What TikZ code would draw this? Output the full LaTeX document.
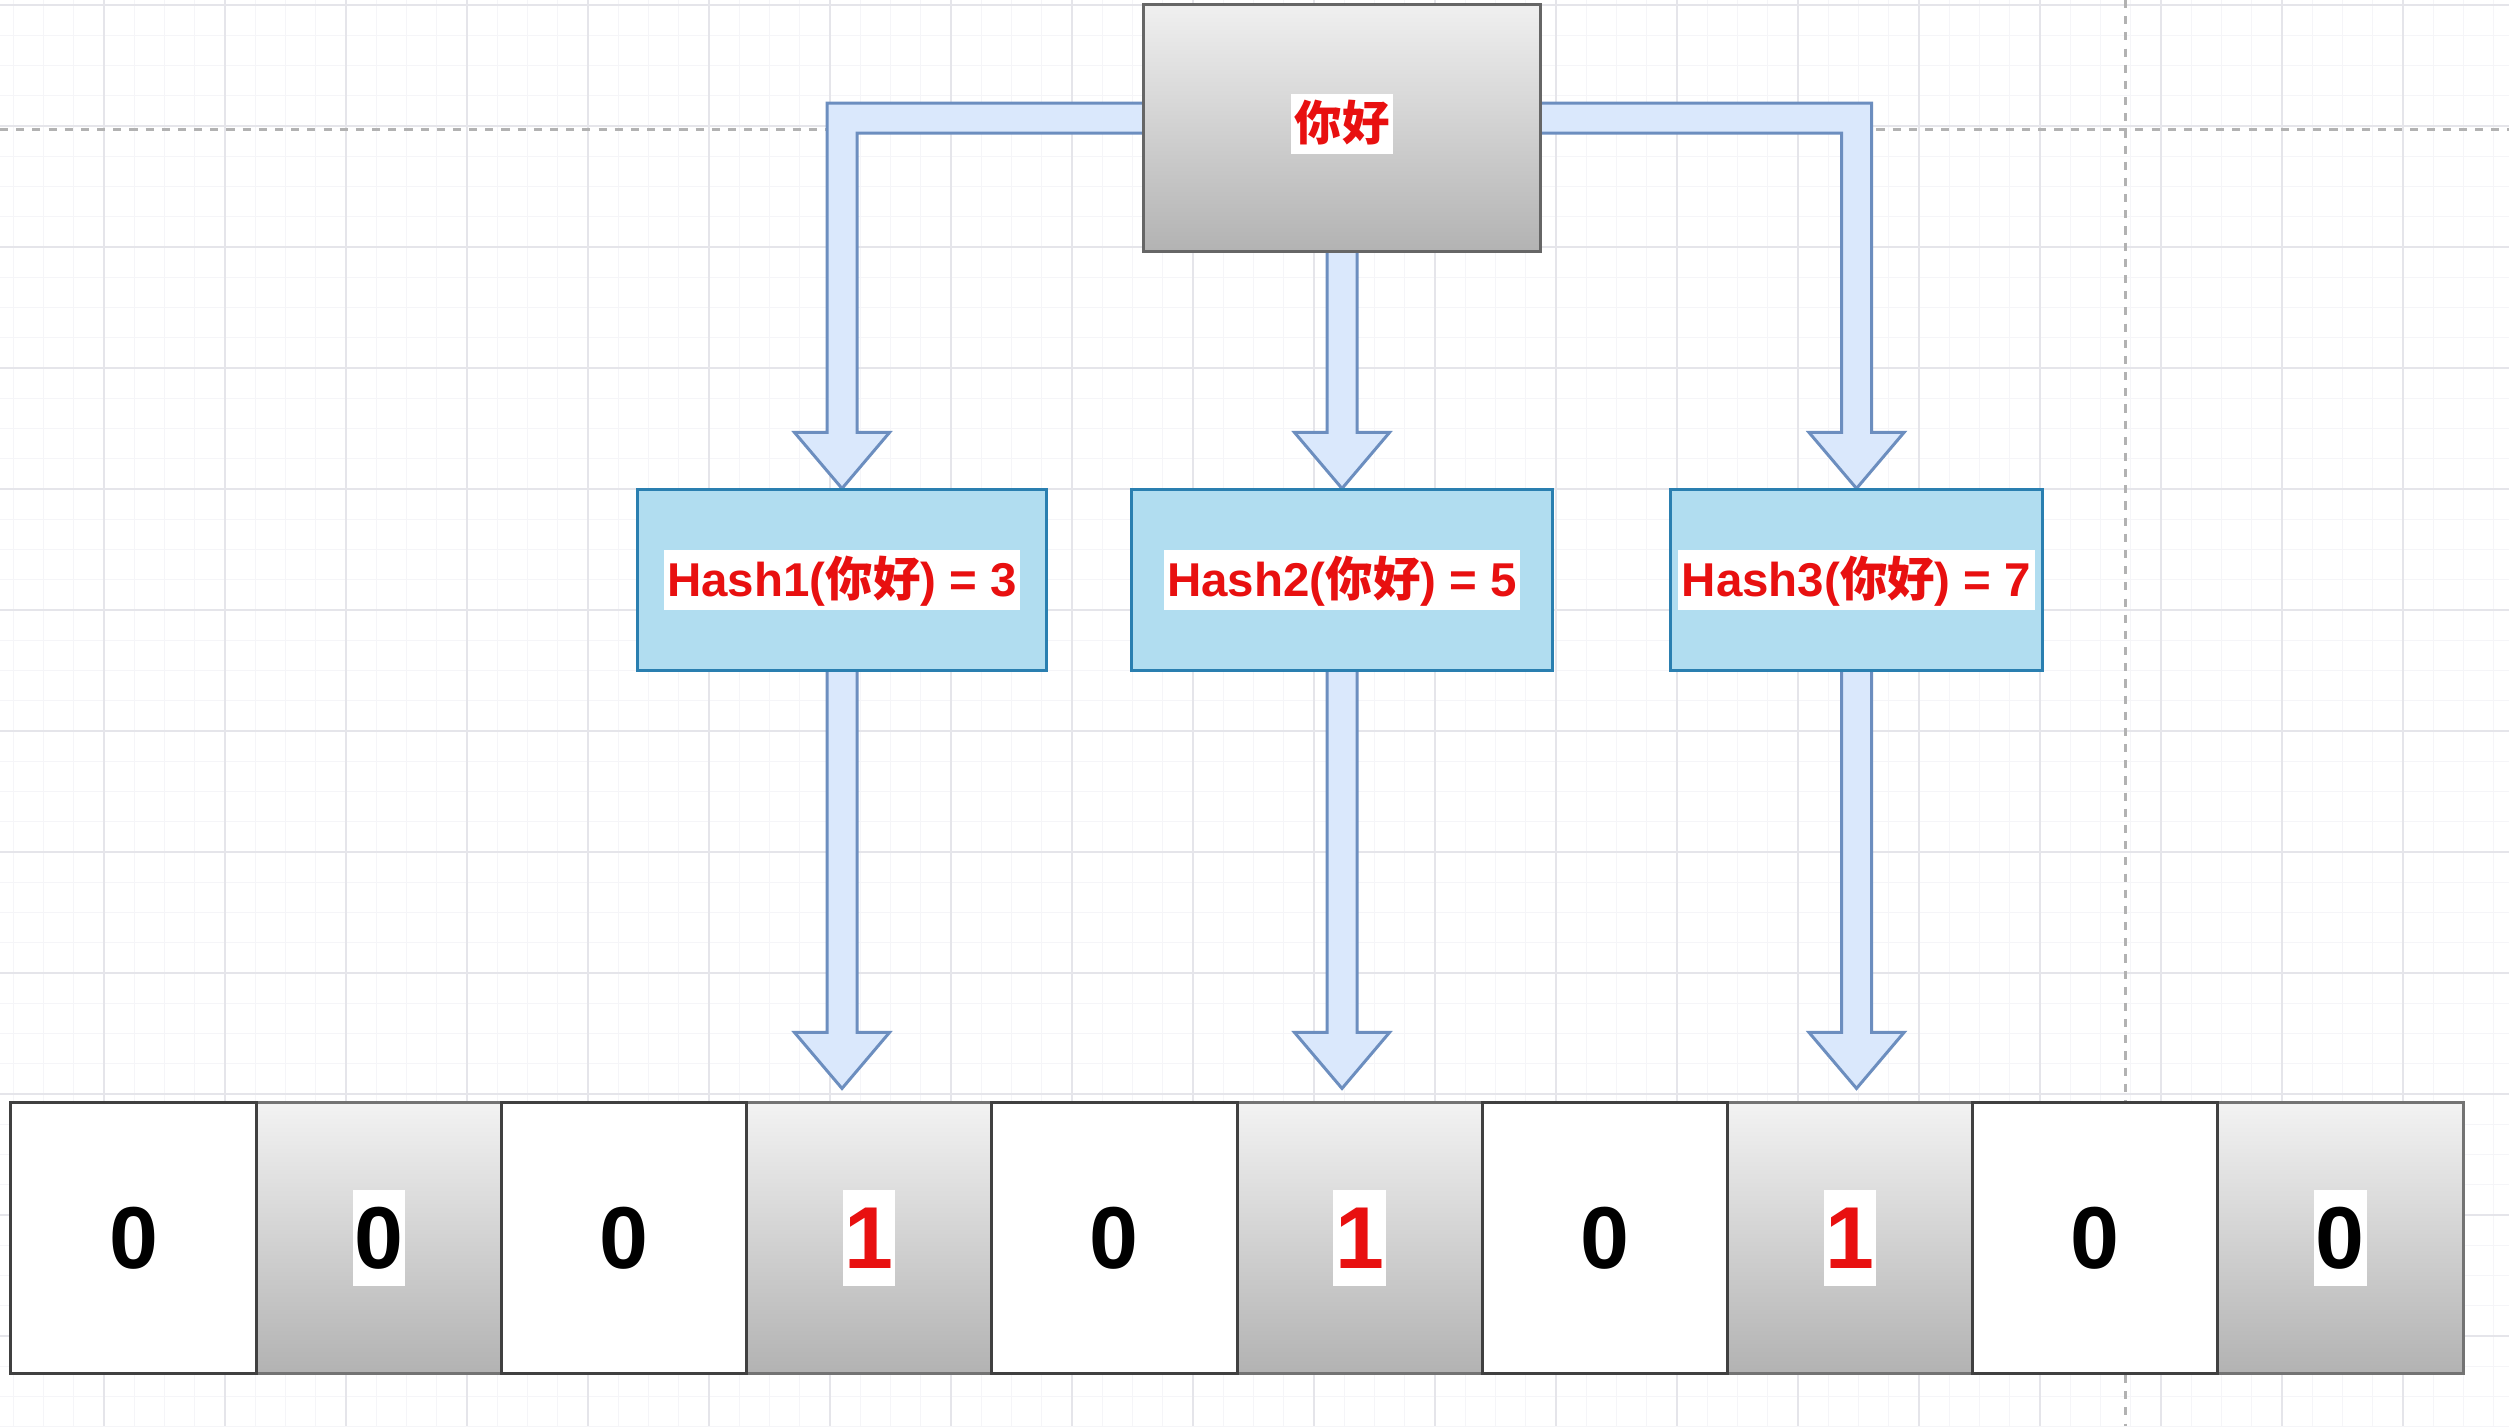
\documentclass[tikz,border=0pt]{standalone}
\usepackage{fontspec}
\setmainfont{Liberation Sans}
\newfontfamily\cjk{Noto Sans CJK SC}
\usetikzlibrary{calc}
\definecolor{arrowfill}{HTML}{DAE8FC}
\definecolor{arrowline}{HTML}{6C8EBF}
\definecolor{hashfill}{HTML}{B1DDF0}
\definecolor{hashline}{HTML}{2A7FB0}
\definecolor{txtred}{HTML}{E81010}
\definecolor{minorgrid}{RGB}{245,245,248}
\definecolor{majorgrid}{RGB}{229,229,234}
\pgfdeclarelayer{grid}
\pgfdeclarelayer{background}
\pgfsetlayers{grid,background,main}
\newcommand{\hl}[1]{{\fboxsep=1pt\colorbox{white}{\rule[-0.21em]{0pt}{1.12em}#1}}}
\newcommand{\hlbit}[1]{{\fboxsep=0.5pt\colorbox{white}{\rule[-0.18em]{0pt}{1.05em}#1}}}
\begin{document}
\begin{tikzpicture}[x=0.01cm, y=-0.01cm]
\tikzstyle{blockarrow}=[fill=arrowfill, draw=arrowline, line width=0.85pt, line join=miter];
\tikzstyle{wordbox}=[draw=black!60, line width=0.85pt, top color=gray!12, bottom color=gray!60, minimum width=3.96cm, minimum height=2.47cm, inner sep=0pt];
\tikzstyle{hashbox}=[draw=hashline, fill=hashfill, line width=0.85pt, minimum height=1.80cm, inner sep=0pt, font=\fontsize{13.5}{16}\selectfont\bfseries, text=txtred];
\tikzstyle{bitwhite}=[draw=black!75, fill=white, line width=0.85pt, minimum width=2.452cm, minimum height=2.70cm, inner sep=0pt, font=\fontsize{25}{30}\selectfont\bfseries];
\tikzstyle{bitgray}=[draw=black!55, top color=gray!10, bottom color=gray!60, line width=0.85pt, minimum width=2.452cm, minimum height=2.70cm, inner sep=0pt, font=\fontsize{25}{30}\selectfont\bfseries];
\useasboundingbox (0,0) rectangle (2509,1426);

% grid paper
\begin{pgfonlayer}{grid}
\fill[white] (0,0) rectangle (2509,1426);
\foreach \k in {0,...,84} \draw[minorgrid, line width=0.3pt] ({-17+30.25*\k},0) -- ({-17+30.25*\k},1426);
\foreach \k in {0,...,47} \draw[minorgrid, line width=0.3pt] (0,{5+30.25*\k}) -- (2509,{5+30.25*\k});
\foreach \k in {0,...,21} \draw[majorgrid, line width=0.55pt] ({-17+121*\k},0) -- ({-17+121*\k},1426);
\foreach \k in {0,...,11} \draw[majorgrid, line width=0.55pt] (0,{5+121*\k}) -- (2509,{5+121*\k});
\draw[black!30, line width=0.85pt, dash pattern=on 2.3pt off 2.3pt] (0,129) -- (2509,129);
\draw[black!30, line width=0.85pt, dash pattern=on 2.3pt off 2.3pt] (2125,0) -- (2125,1426);
\end{pgfonlayer}

% input word
\node[wordbox] (word) at (1342,128) {\raisebox{6pt}{\fontsize{13.5}{16}\selectfont\bfseries\color{txtred}\hl{\cjk 你好}}};

% hash functions
\node[hashbox, minimum width=4.08cm] (h1) at (842,580) {\hl{Hash1({\cjk 你好}) = 3}};
\node[hashbox, minimum width=4.21cm] (h2) at (1342,580) {\hl{Hash2({\cjk 你好}) = 5}};
\node[hashbox, minimum width=3.71cm] (h3) at (1856.5,580) {\hl{Hash3({\cjk 你好}) = 7}};

% bit array
\foreach \i/\v in {1/0,3/1,5/1,7/1,9/0}
  \node[bitgray] (c\i) at ({11+245.2*(\i+0.5)},1238) {\ifnum\v=1 \color{txtred}\fi\hlbit{\v}};
\foreach \i in {0,2,4,6,8}
  \node[bitwhite] (c\i) at ({11+245.2*(\i+0.5)},1238) {0};

% block arrows
\begin{pgfonlayer}{background}
\draw[blockarrow] ($(word.west)+(2,-25)$) -| ($(h1.north)+(-15,-56)$) -- ++(-32.5,0) -- (h1.north) -- ++(47.5,-56) -- ++(-32.5,0) |- ($(word.west)+(2,5)$);
\draw[blockarrow] ($(word.east)+(-2,-25)$) -| ($(h3.north)+(15,-56)$) -- ++(32.5,0) -- (h3.north) -- ++(-47.5,-56) -- ++(32.5,0) |- ($(word.east)+(-2,5)$);
\draw[blockarrow] ($(word.south)+(-15,-2)$) -- ($(h2.north)+(-15,-56)$) -- ++(-32.5,0) -- (h2.north) -- ++(47.5,-56) -- ++(-32.5,0) -- ($(word.south)+(15,-2)$);
\foreach \h in {h1,h2,h3}
  \draw[blockarrow] ($(\h.south)+(-15,-2)$) -- ($(\h.south |- c0.north)+(-15,-69)$) -- ++(-32.5,0) -- ($(\h.south |- c0.north)+(0,-13)$) -- ++(47.5,-56) -- ++(-32.5,0) -- ($(\h.south)+(15,-2)$);
\end{pgfonlayer}
\end{tikzpicture}
\end{document}
